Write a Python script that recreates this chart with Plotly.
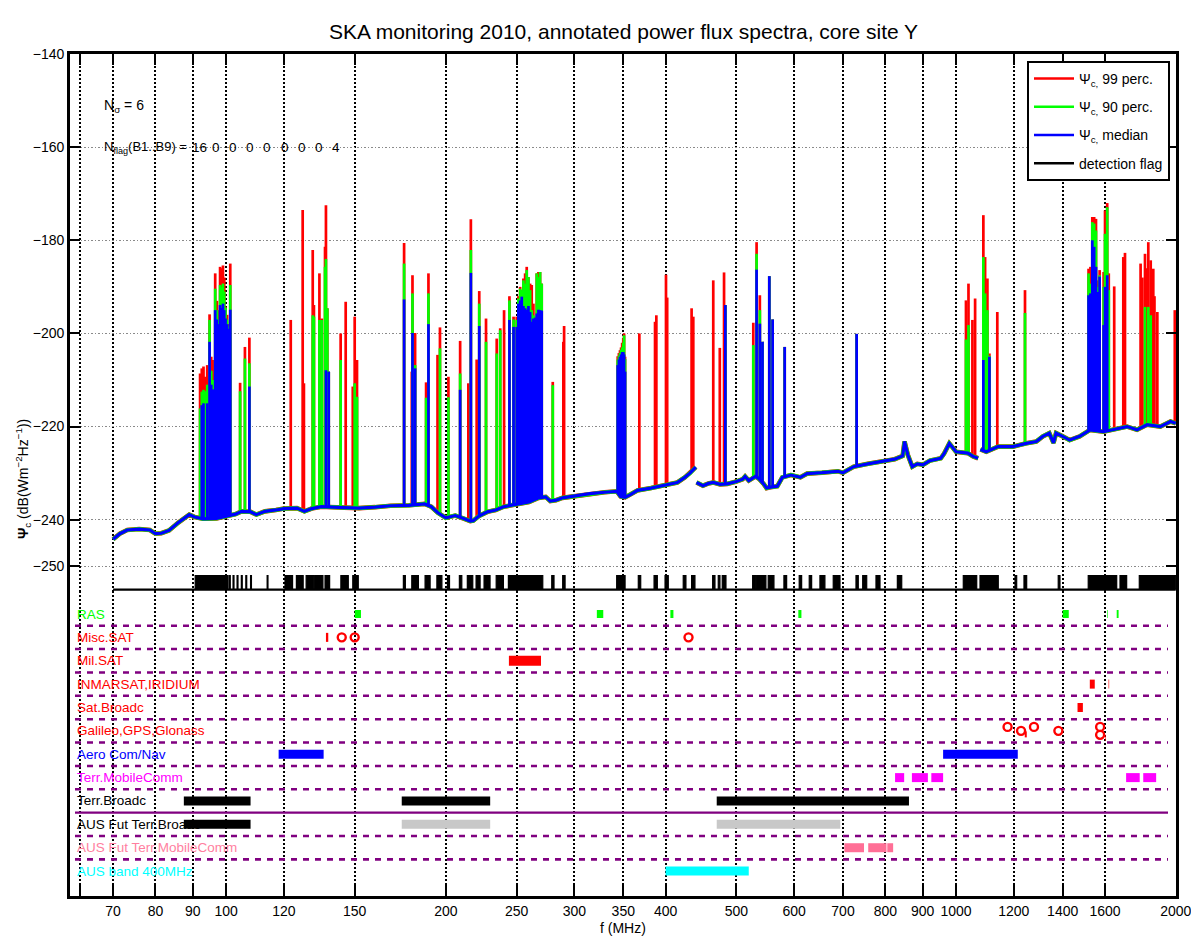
import numpy as np
import plotly.graph_objects as go

FONT = "Liberation Sans, Arial, sans-serif"
RED, GREEN, BLUE = "#ff0000", "#00ff00", "#0000ff"

# ---------------- continuum floor of the median spectrum (three sweeps) ----------------
floor1_f = [70, 71.5, 73.2, 76, 78.6, 80, 81.5, 83.5, 86, 89,
            90.5, 93, 97, 100, 103, 105, 108, 110, 113, 117,
            120, 125, 128, 131, 135, 145, 152, 160, 168, 178,
            187, 191, 195, 200, 206, 212, 216, 218, 222, 228,
            234, 240, 250, 260, 268, 274, 278, 283, 289, 300,
            315, 330, 343, 347, 352, 358, 366, 382, 400, 415,
            425, 432, 440]
floor1_v = [-244.2, -243.0, -242.2, -242.0, -242.2, -243.0, -242.9, -242.3, -240.6, -238.9,
            -239.4, -239.8, -239.7, -239.2, -238.8, -238.2, -238.3, -238.9, -238.2, -237.9,
            -237.6, -237.5, -238.2, -237.6, -237.2, -237.4, -237.5, -237.3, -237.0, -236.9,
            -236.6, -237.2, -238.5, -239.6, -239.1, -239.8, -240.3, -240.2, -239.2, -238.3,
            -237.9, -237.2, -236.6, -236.2, -235.3, -235.1, -236.0, -235.8, -235.3, -234.9,
            -234.4, -234.1, -233.9, -235.0, -235.2, -234.6, -233.7, -233.2, -232.6, -232.0,
            -230.9, -230.0, -228.7]

floor2_f = [441, 450, 458, 465, 475, 486, 500, 510, 514, 520,
            531, 537, 545, 550, 557, 569, 578, 594, 612, 625,
            655, 689, 700, 724, 757, 792, 824, 845, 850, 859,
            871, 885, 901, 921, 953, 963, 979, 1000, 1038, 1055,
            1072]
floor2_v = [-232.0, -232.7, -232.2, -232.0, -232.4, -232.3, -231.8, -231.3, -230.7, -231.6,
            -230.7, -231.2, -232.3, -233.2, -233.0, -232.8, -230.9, -230.4, -230.9, -230.1,
            -229.9, -229.6, -229.9, -228.6, -228.0, -227.4, -227.0, -226.3, -223.2, -226.1,
            -228.6, -228.0, -228.2, -227.3, -226.8, -225.8, -223.6, -225.4, -225.7, -226.4,
            -226.8]

floor3_f = [1080, 1100, 1142, 1197, 1248, 1288, 1315, 1342, 1360, 1371,
            1400, 1431, 1477, 1526, 1592, 1661, 1715, 1770, 1827, 1905,
            1967, 2000]
floor3_v = [-224.9, -225.4, -224.3, -224.3, -223.6, -223.2, -222.1, -221.4, -223.5, -221.4,
            -222.1, -222.9, -222.1, -220.7, -221.1, -220.4, -220.0, -220.7, -219.6, -220.0,
            -218.9, -219.3]

# ---------------- narrow-band peaks: frequency (MHz) and level per percentile ----------------
spike_f = [
    # FM band
    92.1, 92.6, 93.1, 93.6, 94.2, 94.9, 95.4, 96.0, 96.6, 97.1, 97.6, 98.1, 98.6, 99.0,
    99.4, 99.8, 100.3, 100.6, 101.3, 104.5, 106.1, 107.6,
    # VHF air / misc
    122.6, 127.3, 127.8, 131.4, 131.9, 134.2, 135.2, 136.6, 137.0, 137.6, 138.2, 143.5,
    145.8, 149.1, 150.0, 151.1,
    # VHF TV and military
    175.3, 179.6, 180.0, 181.5, 187.9, 189.3, 194.8, 196.3, 201.6, 209.2, 214.7, 216.4,
    220.4, 222.2, 227.0, 234.8, 237.4, 240.3, 244.4, 247.6,
    250.1, 251.4, 252.8, 254.1, 255.4, 256.8, 258.1, 259.5, 260.9, 262.2, 263.6, 265.0,
    266.4, 267.8, 269.2, 270.6, 280.2, 289.7, 290.4,
    # UHF
    343.9, 345.2, 346.4, 347.6, 348.8, 350.0, 350.9, 352.0, 368.2, 386.9, 388.5, 400.5,
    402.0, 434.2, 436.5, 464.9, 474.6, 481.0, 483.0, 527.5, 533.0, 538.5, 543.0, 554.8,
    560.7, 582.4, 730.8,
    # L band and above
    1031.8, 1040, 1053, 1062, 1090, 1096, 1104, 1111, 1139, 1243, 1519, 1528,
    1537, 1546, 1555, 1564, 1573, 1593, 1600, 1611, 1619, 1647, 1695, 1704,
    1790, 1800, 1815, 1825, 1834, 1848, 1856, 1863, 1870, 1887, 1994]

spike_p99 = [
    -208.6, -207.5, -207.1, -209.3, -206.8, -195.9, -205.0, -205.7, -187.1, -193.0, -195.0, -185.7, -186.0, -185.4,
    -188.0, -194.3, -196.0, -198.0, -185.0, -210.6, -202.9, -200.9,
    -197.1, -173.5, -210.7, -182.1, -193.9, -187.1, -196.8, -181.4, -172.5, -194.6, -208.2, -200.0,
    -193.2, -211.4, -196.4, -205.7,
    -180.6, -208.2, -187.5, -199.9, -210.5, -187.1, -204.6, -198.7, -209.3, -201.6, -210.7, -175.5,
    -205.6, -190.9, -196.8, -201.1, -198.9, -195.0, -192.0, -196.4,
    -196.4, -192.0, -190.0, -190.7, -188.2, -187.1, -185.7, -187.9, -189.3, -189.6, -193.6, -196.4,
    -187.1, -186.8, -186.8, -189.3, -210.4, -201.8, -198.4,
    -204.9, -204.2, -203.6, -203.0, -202.0, -201.0, -200.0, -205.0, -200.0, -197.5, -196.1, -187.4,
    -192.3, -194.6, -196.4, -188.6, -203.1, -186.9, -193.9, -197.7, -180.4, -191.8, -201.8, -187.7,
    -197.0, -202.9, -200.1,
    -192.9, -189.3, -197.1, -192.5, -174.6, -183.6, -188.2, -204.3, -195.4, -190.7, -186.1, -185.7,
    -175.0, -175.0, -175.4, -188.6, -186.4, -186.8, -173.6, -172.0, -187.1, -189.9, -183.6, -182.7,
    -185.0, -188.0, -182.9, -186.0, -180.4, -184.3, -190.0, -186.1, -192.0, -195.4, -195.0]

spike_p90 = [
    -216.1, -212.5, -212.1, -212.4, -211.0, -197.1, -208.0, -210.0, -190.4, -195.0, -197.0, -189.6, -190.0, -189.3,
    -191.0, -194.5, -197.0, -198.5, -189.6, -212.4, -205.4, -206.4,
    None, None, None, -196.1, -196.4, -197.1, -197.1, -185.7, -184.0, -194.6, -208.2, -205.7,
    None, None, -210.7, -213.6,
    -185.0, None, -191.4, -206.8, -213.8, -191.4, None, -203.2, -213.7, -208.6, None, -182.1,
    None, -193.6, -201.8, -204.3, -199.3, None, -192.9, -197.0,
    -197.1, -192.5, -190.4, -190.7, -188.6, -189.3, -186.4, -187.9, -190.7, -195.0, -196.1, -196.4,
    -187.1, -187.9, -186.8, -189.3, -211.1, None, None,
    -205.6, -204.8, -204.2, -203.5, -203.0, -202.0, -200.4, -205.5, None, None, None, None,
    None, None, None, None, None, None, -193.9, -202.5, -182.9, -195.0, -201.8, -187.7,
    -197.0, -202.9, -200.1,
    -201.3, -198.2, None, None, -183.6, -191.4, -195.0, -204.8, None, -195.6, -187.1, -189.3,
    -176.1, -176.4, -177.9, -190.0, -187.5, -190.0, -178.6, -172.9, -190.7, None, None, None,
    None, None, -194.3, None, -194.3, -196.1, None, None, None, None, None]

spike_p50 = [
    None, -215.4, -215.0, None, -215.0, -201.8, -211.0, -212.0, -195.0, -197.0, -198.0, -193.9, -194.5, -193.6,
    -195.0, -196.8, -198.0, -199.0, -194.9, None, None, -211.4,
    None, None, None, None, None, None, None, None, -207.9, None, -208.2, None,
    None, None, None, None,
    -192.7, None, -199.9, -207.5, None, -198.0, None, None, None, -212.1, None, -187.0,
    None, -198.4, None, None, None, None, -197.1, -198.6,
    -198.6, -193.6, -192.9, -192.1, -194.1, -194.6, -194.9, -194.1, -195.4, -197.5, -196.8, -196.6,
    -195.7, -194.9, -195.0, -195.1, None, None, None,
    -206.8, -205.6, -205.0, -204.5, -204.0, -204.0, -204.5, -208.2, None, None, None, None,
    None, None, None, None, None, None, -193.9, None, -186.3, -197.9, -201.8, -187.7,
    -197.0, -202.9, -200.1,
    None, None, None, None, -205.7, None, None, -205.0, None, None, -191.8, -191.4,
    -180.0, -181.4, -185.7, -191.1, -187.8, -198.2, -190.0, -187.5, None, None, None, None,
    None, None, None, None, None, None, None, None, None, None, None]

# ---------------- detection flag (flagged channel ranges, MHz) ----------------
flag_lo = [90.7, 101.0, 102.2, 103.5, 104.9, 106.4, 108.0, 113.8,
           120.4, 124.8, 128.7, 132.2, 136.6, 143.6, 149.1,
           174.9, 179.6, 187.3, 194.4, 201.0, 208.7, 214.0, 220.0, 225.6, 234.4, 243.6, 279.3, 289.1,
           342.8, 367.0, 385.7, 399.3, 422.9, 434.2, 464.0, 472.3, 478.3, 526.4, 533.1, 552.9, 581.0,
           609.7, 629.3, 650.9, 678.8, 729.3, 744.9, 776.8, 831.0,
           1023.1, 1078.5, 1204.4, 1239.0, 1380.4, 1517.4, 1677.4, 1782.6]
flag_hi = [100.6, 101.3, 102.5, 103.8, 105.2, 106.7, 108.3, 114.1,
           123.3, 127.5, 131.8, 135.7, 138.6, 147.0, 151.7,
           176.0, 183.4, 190.3, 197.5, 202.3, 210.3, 217.7, 222.8, 229.9, 239.8, 271.5, 281.3, 291.3,
           352.0, 369.8, 389.7, 403.4, 426.5, 438.8, 467.4, 474.8, 483.9, 531.9, 548.9, 563.0, 586.0,
           614.4, 634.1, 661.2, 693.4, 734.6, 754.4, 786.7, 842.5,
           1067.4, 1142.5, 1210.8, 1249.6, 1388.0, 1660.0, 1713.0, 2000.0]
flag_counts = [16, 0, 0, 0, 0, 0, 0, 0, 4]

# ---------------- spectrum allocation annotation rows ----------------
row_names = ["RAS", "Misc.SAT", "Mil.SAT", "INMARSAT,IRIDIUM", "Sat.Broadc",
             "Galileo,GPS,Glonass", "Aero Com/Nav", "Terr.MobileComm", "Terr.Broadc",
             "AUS Fut Terr.Broadc", "AUS Fut Terr.MobileComm", "AUS band 400MHz"]
row_colors = ["#00ff00", RED, RED, RED, RED, RED, BLUE, "#ff00ff", "#000000",
              "#000000", "#ff7f9f", "#00ffff"]

ras_bands = [(150.05, 153.0), (322.0, 328.6), (406.1, 410.0), (608.0, 614.0),
             (1400.0, 1427.0), (1610.6, 1613.8), (1660.0, 1670.0)]
miscsat_bands = [(137.0, 138.0)]
miscsat_points = [144.0, 150.0, 430.0]
milsat_bands = [(244.0, 270.0)]
inmarsat_bands = [(1525.0, 1549.0), (1618.0, 1621.0)]
satbroadc_bands = [(1467.0, 1492.0)]
gnss_points_f = [1176.45, 1227.6, 1278.75, 1381.05, 1575.42, 1575.42]
gnss_points_dy = [0.17, 0.0, 0.17, 0.0, 0.17, -0.17]
gnss_bands = [(1201.0, 1204.0, 0.0), (1242.0, 1250.0, -0.15), (1600.0, 1603.0, -0.3)]
aero_bands = [(118.0, 136.0), (960.0, 1215.0)]
terrmob_bands = [(825.0, 849.0), (870.0, 915.0), (925.0, 960.0), (1710.0, 1785.0), (1805.0, 1880.0)]
terrbroadc_bands = [(87.5, 108.0), (174.0, 230.0), (470.0, 862.0)]
ausbroadc_black = [(87.5, 108.0)]
ausbroadc_grey = [(174.0, 230.0), (470.0, 694.0)]
ausmob_bands = [(703.0, 748.0), (758.0, 803.0), (805.0, 820.0)]
aus400_bands = [(400.0, 520.0)]

xtick_vals = [63, 70, 80, 90, 100, 120, 150, 200, 250, 300, 350, 400, 500, 600, 700,
              800, 900, 1000, 1200, 1400, 1600, 2000]
xtick_text = [""] + [str(v) for v in xtick_vals[1:]]
ytick_vals = [-140, -160, -180, -200, -220, -240, -250]

# ---------------- figure geometry ----------------
W, H = 1191, 936
ML, MR, MT, MB = 70, 15, 54, 40
PW, PH = W - ML - MR, H - MT - MB
SPLIT = (H - MB - 591) / PH          # lower edge of the spectrum panel (paper)
FLAG_BASE, FLAG_TOP = -255.0, -252.0
NROW = len(row_names)

all_f = np.array(floor1_f + floor2_f + floor3_f, dtype=float)
all_v = np.array(floor1_v + floor2_v + floor3_v, dtype=float)


def foot(f):
    """Level of the continuum at frequency f (start point of a peak)."""
    return float(np.interp(np.log10(f), np.log10(all_f), all_v))


def floor_xy():
    xs = floor1_f + [None] + floor2_f + [None] + floor3_f
    ys = floor1_v + [None] + floor2_v + [None] + floor3_v
    return xs, ys


def spike_xy(levels):
    xs, ys = [], []
    for f, v in zip(spike_f, levels):
        if v is None:
            continue
        xs += [f, f, None]
        ys += [foot(f), v, None]
    return xs, ys


fig = go.Figure()

fx, fy = floor_xy()
series = [(spike_p99, RED, "Ψ<sub>c,</sub> 99 perc.", 4.6),
          (spike_p90, GREEN, "Ψ<sub>c,</sub> 90 perc.", 4.2),
          (spike_p50, BLUE, "Ψ<sub>c,</sub> median", 3.2)]
for i, (levels, col, name, fw) in enumerate(series):
    fig.add_trace(go.Scatter(x=fx, y=fy, mode="lines", showlegend=False,
                             line=dict(color=col, width=fw), xaxis="x", yaxis="y",
                             connectgaps=False, hoverinfo="skip"))
    sx, sy = spike_xy(levels)
    fig.add_trace(go.Scatter(x=sx, y=sy, mode="lines", showlegend=False,
                             line=dict(color=col, width=2.7), xaxis="x", yaxis="y",
                             hoverinfo="skip"))

# detection flag
fig.add_trace(go.Scatter(x=[70, 2000], y=[FLAG_BASE, FLAG_BASE], mode="lines",
                         showlegend=False, line=dict(color="black", width=2.4),
                         xaxis="x", yaxis="y", hoverinfo="skip"))
gx, gy = [], []
for lo, hi in zip(flag_lo, flag_hi):
    gx += [lo, lo, hi, hi, None]
    gy += [FLAG_BASE, FLAG_TOP, FLAG_TOP, FLAG_BASE, None]
fig.add_trace(go.Scatter(x=gx, y=gy, mode="lines", fill="toself", fillcolor="black",
                         line=dict(color="black", width=1.2), showlegend=False,
                         xaxis="x", yaxis="y", hoverinfo="skip"))

# legend keys
for i, (name, col) in enumerate([(series[0][2], RED), (series[1][2], GREEN),
                                 (series[2][2], BLUE), ("detection flag", "black")]):
    fig.add_trace(go.Scatter(x=[None], y=[None], mode="lines", name=name, legendgroup=f"g{i}",
                             line=dict(color=col, width=2.5), xaxis="x", yaxis="y"))


def row_y(name):
    return NROW - row_names.index(name)


def add_bands(bands, row, color, width=9, dy=0.0):
    xs, ys = [], []
    y = row_y(row) + dy
    for lo, hi in bands:
        xs += [lo, hi, None]
        ys += [y, y, None]
    fig.add_trace(go.Scatter(x=xs, y=ys, mode="lines", line=dict(color=color, width=width),
                             showlegend=False, xaxis="x2", yaxis="y2", hoverinfo="skip"))


def add_rings(freqs, row, dys):
    fig.add_trace(go.Scatter(x=freqs, y=[row_y(row) + d for d in dys], mode="markers",
                             marker=dict(symbol="circle-open", size=8, color=RED,
                                         line=dict(width=2.4, color=RED)),
                             showlegend=False, xaxis="x2", yaxis="y2", hoverinfo="skip"))


add_bands(ras_bands, "RAS", "#00ff00", width=8)
add_bands(miscsat_bands, "Misc.SAT", RED, width=9)
add_rings(miscsat_points, "Misc.SAT", [0.0] * len(miscsat_points))
add_bands(milsat_bands, "Mil.SAT", RED, width=10)
add_bands(inmarsat_bands, "INMARSAT,IRIDIUM", RED, width=9)
add_bands(satbroadc_bands, "Sat.Broadc", RED, width=9)
add_rings(gnss_points_f, "Galileo,GPS,Glonass", gnss_points_dy)
for lo, hi, d in gnss_bands:
    add_bands([(lo, hi)], "Galileo,GPS,Glonass", RED, width=6, dy=d)
add_bands(aero_bands, "Aero Com/Nav", BLUE, width=9)
add_bands(terrmob_bands, "Terr.MobileComm", "#ff00ff", width=9)
add_bands(terrbroadc_bands, "Terr.Broadc", "black", width=9)
add_bands(ausbroadc_black, "AUS Fut Terr.Broadc", "black", width=9)
add_bands(ausbroadc_grey, "AUS Fut Terr.Broadc", "#c8c8c8", width=9)
add_bands(ausmob_bands, "AUS Fut Terr.MobileComm", "#ff6f96", width=9)
add_bands(aus400_bands, "AUS band 400MHz", "#00ffff", width=9)

# row separators
shapes = []
x0d, x1d = (75 - ML) / PW, (1168 - ML) / PW
for k in range(NROW - 1):
    yv = NROW - k - 0.5
    solid = row_names[k] == "Terr.Broadc"
    shapes.append(dict(type="line", xref="x2 domain", yref="y2", x0=x0d, x1=x1d, y0=yv, y1=yv,
                       line=dict(color="#800080", width=2.2 if solid else 2.6,
                                 dash="solid" if solid else "6px,6px"), layer="above"))

annotations = []
for name, col in zip(row_names, row_colors):
    annotations.append(dict(text=name, xref="x2 domain", yref="y2", x=x0d, y=row_y(name),
                            xanchor="left", yanchor="middle", showarrow=False,
                            font=dict(family=FONT, size=13.5, color=col)))

# title, axis titles, statistics text
annotations.append(dict(text="SKA monitoring 2010, annotated power flux spectra, core site Y",
                        xref="paper", yref="paper", x=0.5, y=(H - MB - 31) / PH,
                        xanchor="center", yanchor="middle", showarrow=False,
                        font=dict(family=FONT, size=21, color="black")))
annotations.append(dict(text="f (MHz)", xref="paper", yref="paper", x=0.5, y=(H - MB - 928) / PH,
                        xanchor="center", yanchor="middle", showarrow=False,
                        font=dict(family=FONT, size=14, color="black")))
annotations.append(dict(text="<b>Ψ</b><sub>c</sub> (dB(Wm<sup>−2</sup>Hz<sup>−1</sup>))",
                        xref="paper", yref="paper", x=(23 - ML) / PW, y=(H - MB - 479) / PH,
                        xanchor="center", yanchor="middle", textangle=-90, showarrow=False,
                        font=dict(family=FONT, size=14, color="black")))
annotations.append(dict(text="N<sub>σ</sub> = 6", xref="paper", yref="paper",
                        x=(102 - ML) / PW, y=(H - MB - 106) / PH, xanchor="left",
                        yanchor="middle", showarrow=False,
                        font=dict(family=FONT, size=14, color="black")))
annotations.append(dict(text="N<sub>flag</sub>(B1..B9) =", xref="paper", yref="paper",
                        x=(102 - ML) / PW, y=(H - MB - 147) / PH, xanchor="left",
                        yanchor="middle", showarrow=False,
                        font=dict(family=FONT, size=13, color="black")))
for i, c in enumerate(flag_counts):
    annotations.append(dict(text=str(c), xref="paper", yref="paper",
                            x=(199 + 17.1 * i - ML) / PW, y=(H - MB - 147) / PH,
                            xanchor="center", yanchor="middle", showarrow=False,
                            font=dict(family=FONT, size=13.5, color="black")))

xcommon = dict(type="log", range=[np.log10(61.1), np.log10(2001.5)], tickvals=xtick_vals,
               ticktext=xtick_text, ticks="inside", ticklen=11, tickwidth=2.2, tickcolor="black",
               showgrid=True, gridcolor="black", gridwidth=1.6, griddash="2px,2px",
               showline=True, linecolor="black", linewidth=2.6, zeroline=False,
               ticklabeloverflow="allow", automargin=False)

fig.update_layout(
    width=W, height=H, margin=dict(l=ML, r=MR, t=MT, b=MB, autoexpand=False),
    paper_bgcolor="white", plot_bgcolor="white",
    font=dict(family=FONT, size=14, color="black"),
    xaxis=dict(**xcommon, anchor="y", side="top", showticklabels=False),
    xaxis2=dict(**xcommon, anchor="y2", side="bottom", matches="x",
                tickfont=dict(family=FONT, size=14, color="black")),
    yaxis=dict(domain=[SPLIT, 1.0], range=[-255.3, -140], tickvals=ytick_vals,
               ticktext=["−140", "−160", "−180", "−200", "−220", "−240", "−250"],
               ticks="inside", ticklen=10, tickwidth=2.4, tickcolor="black",
               showgrid=True, gridcolor="#8a8a8a", gridwidth=1.2, griddash="1.5px,2px",
               showline=True, linecolor="black", linewidth=2.6, mirror="ticks",
               zeroline=False, automargin=False,
               tickfont=dict(family=FONT, size=14, color="black")),
    yaxis2=dict(domain=[0.0, SPLIT], range=[-0.065, 12.984], showticklabels=False,
                ticks="", showgrid=False, zeroline=False, showline=True, automargin=False,
                linecolor="black", linewidth=2.6, mirror=True),
    legend=dict(x=(1170 - ML) / PW, y=(H - MB - 61) / PH, xanchor="right", yanchor="top",
                bgcolor="white", bordercolor="black", borderwidth=2,
                font=dict(family=FONT, size=14, color="black"),
                tracegroupgap=7, itemwidth=40, traceorder="grouped"),
    shapes=shapes, annotations=annotations, showlegend=True,
)

fig.write_html("out.html")
